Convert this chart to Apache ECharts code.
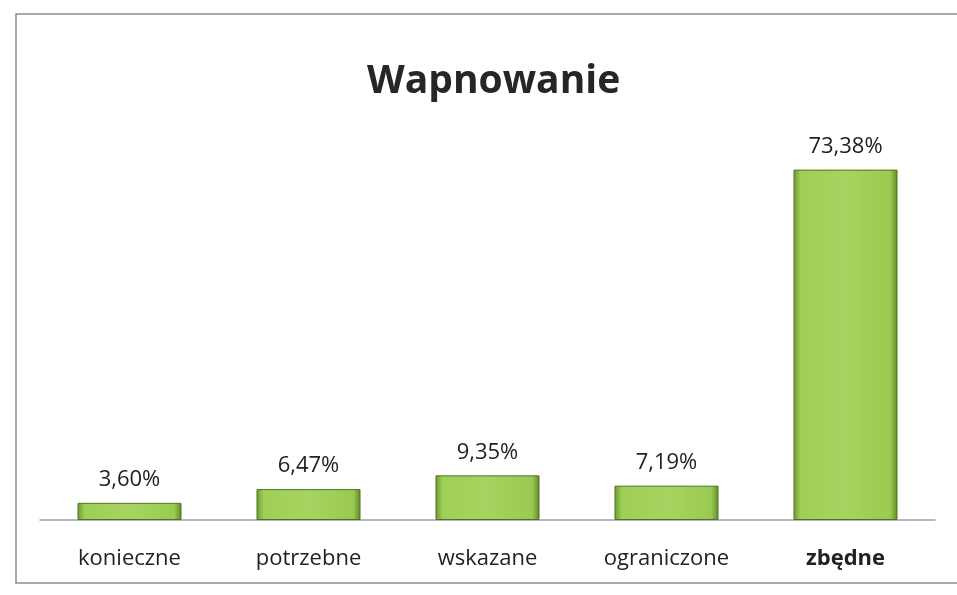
<!DOCTYPE html>
<html>
<head>
<meta charset="utf-8">
<script src="https://cdn.jsdelivr.net/npm/echarts@6/dist/echarts.min.js"></script>
<style>
  html, body { margin: 0; padding: 0; background: #fff; }
  #main { width: 957px; height: 595px; }
</style>
</head>
<body>
<div id="main"></div>
<script>
const categories = ['konieczne', 'potrzebne', 'wskazane', 'ograniczone', 'zbędne']
const values = [3.60, 6.47, 9.35, 7.19, 73.38]
const boldCategories = ['zbędne']

const chart = echarts.init(document.getElementById('main'))

const barColor = {
  type: 'linear', x: 0, y: 0, x2: 1, y2: 0,
  colorStops: [
    { offset: 0, color: '#6e9a30' },
    { offset: 0.07, color: '#a0cf58' },
    { offset: 0.5, color: '#a6d460' },
    { offset: 0.93, color: '#9aca52' },
    { offset: 1, color: '#5f8a26' }
  ]
}

const fmt = (v) => v.toFixed(2).replace('.', ',') + '%'

chart.setOption({
  animation: false,
  textStyle: { fontFamily: 'Open Sans' },
  title: {
    text: 'Wapnowanie',
    left: 362,
    top: 57,
    textStyle: { fontFamily: 'Open Sans', fontSize: 39, fontWeight: 'bold', color: '#262626' }
  },
  graphic: [
    {
      type: 'rect',
      shape: { x: 16, y: 14, width: 960, height: 569 },
      style: { fill: 'none', stroke: '#8a8d99', lineWidth: 1.5 },
      silent: true
    }
  ],
  grid: { left: 40, right: 22, top: 138, bottom: 75 },
  xAxis: {
    type: 'category',
    data: categories,
    axisTick: { show: false },
    axisLine: { lineStyle: { color: '#9aa0b4', width: 1.5 } },
    axisLabel: {
      margin: 28,
      fontSize: 22,
      color: '#222',
      formatter: (v) => boldCategories.includes(v) ? '{b|' + v + '}' : v,
      rich: { b: { fontWeight: 'bold', fontSize: 22, color: '#222' } }
    }
  },
  yAxis: {
    type: 'value',
    min: 0,
    max: 80,
    show: false,
    splitLine: { show: false }
  },
  series: [
    {
      type: 'bar',
      data: values,
      barWidth: 104,
      itemStyle: {
        color: barColor,
        borderColor: '#4d7420',
        borderWidth: 1
      },
      label: {
        show: true,
        position: 'top',
        distance: 12,
        fontSize: 22,
        color: '#222',
        formatter: (p) => fmt(p.value)
      }
    }
  ]
})
</script>
</body>
</html>
